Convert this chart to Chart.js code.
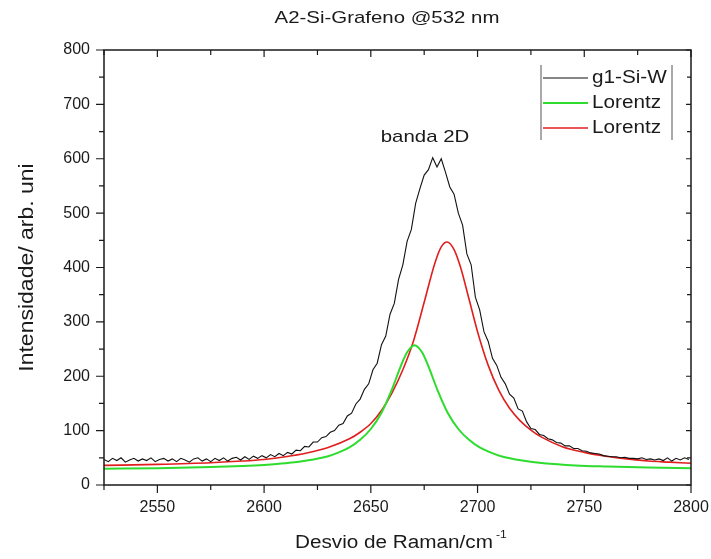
<!DOCTYPE html>
<html>
<head>
<meta charset="utf-8">
<script src="https://cdn.jsdelivr.net/npm/chart.js@4.4.1/dist/chart.umd.min.js"></script>
<style>
  html, body { margin: 0; padding: 0; background: #fff; }
  #wrap { width: 711px; height: 559px; }
</style>
</head>
<body>
<div id="wrap"><canvas id="c" width="711" height="559"></canvas></div>
<script>
const ramanShift = [
  2525,2527,2529,2531,2533,2535,2537,2539,2541,2543,
  2545,2547,2549,2551,2553,2555,2557,2559,2561,2563,
  2565,2567,2569,2571,2573,2575,2577,2579,2581,2583,
  2585,2587,2589,2591,2593,2595,2597,2599,2601,2603,
  2605,2607,2609,2611,2613,2615,2617,2619,2621,2623,
  2625,2627,2629,2631,2633,2635,2637,2639,2641,2643,
  2645,2647,2649,2651,2653,2655,2657,2659,2661,2663,
  2665,2667,2669,2671,2673,2675,2677,2679,2681,2683,
  2685,2687,2689,2691,2693,2695,2697,2699,2701,2703,
  2705,2707,2709,2711,2713,2715,2717,2719,2721,2723,
  2725,2727,2729,2731,2733,2735,2737,2739,2741,2743,
  2745,2747,2749,2751,2753,2755,2757,2759,2761,2763,
  2765,2767,2769,2771,2773,2775,2777,2779,2781,2783,
  2785,2787,2789,2791,2793,2795,2797,2799
];
const intensity = [
  47,43,49,45,50,42,46,49,44,48,
  45,50,43,47,49,44,48,43,49,46,
  42,48,50,44,48,43,49,45,50,44,
  49,51,46,52,47,53,49,54,50,56,
  52,58,54,60,57,64,63,71,70,79,
  79,87,89,97,100,110,113,127,132,149,
  158,176,186,212,224,258,274,314,334,378,
  405,448,470,518,545,570,580,602,585,600,
  575,548,535,500,478,425,405,345,322,282,
  264,233,220,198,186,167,160,140,136,116,
  104,102,93,91,85,83,78,77,72,72,
  67,67,63,62,59,58,57,54,53,52,
  52,50,51,49,49,48,50,47,48,46,
  48,45,50,44,49,46,50,47
];

const greenX = [2525,2550,2575,2590,2600,2610,2620,2630,2635,2640,2645,2650,2655,2660,2664,2667,2670.5,
  2674,2677,2681,2686,2691,2696,2701,2706,2711,2721,2731,2746,2761,2780,2800];
const greenY = [30,31,33,35,37,40,45,53,60,69,83,103,133,177,218,244,257,
  244,218,177,133,103,83,69,60,53,45,40,36,34,32,31];

const redX = [2525,2550,2575,2590,2600,2610,2620,2630,2640,2645,2650,2655,2660,2665,2670,2675,2680,2683,2685.7,
  2689,2692,2696,2700,2705,2710,2715,2720,2725,2730,2740,2750,2760,2770,2780,2790,2800];
const redY = [36,38,41,44,47,52,59,69,85,97,113,137,170,212,265,336,408,438,447,
  433,401,342,282,220,174,141,118,101,88,70,60,53,48,44,42,40];

const xTickLabels = [2550, 2600, 2650, 2700, 2750, 2800];
const yTickLabels = [0, 100, 200, 300, 400, 500, 600, 700, 800];

const toPoints = (xs, ys) => xs.map((x, i) => ({ x, y: ys[i] }));

const FONT = '"Liberation Sans", Arial, sans-serif';
const INK = '#1a1a1a';

// stretched text, the source image is a bit wider than plain Arial
function stretchText(ctx, text, x, y, size, align, sx, rot) {
  ctx.save();
  ctx.translate(x, y);
  if (rot) ctx.rotate(rot);
  ctx.scale(sx, 1);
  ctx.font = size + 'px ' + FONT;
  ctx.fillStyle = INK;
  ctx.textAlign = align;
  ctx.textBaseline = 'middle';
  ctx.fillText(text, 0, 0);
  ctx.restore();
}

const frame = {
  id: 'frame',
  afterDraw(chart) {
    const { ctx, chartArea: a, scales: { x, y } } = chart;
    ctx.save();
    ctx.strokeStyle = INK;
    ctx.lineWidth = 1.5;
    ctx.strokeRect(a.left, a.top, a.right - a.left, a.bottom - a.top);

    ctx.lineWidth = 1.2;
    ctx.beginPath();
    x.ticks.forEach(t => {
      const px = x.getPixelForValue(t.value);
      const major = xTickLabels.includes(t.value);
      ctx.moveTo(px, a.bottom); ctx.lineTo(px, a.bottom + (major ? 8 : 5));
      ctx.moveTo(px, a.top); ctx.lineTo(px, a.top + (major ? 7 : 5));
    });
    y.ticks.forEach(t => {
      const py = y.getPixelForValue(t.value);
      const major = yTickLabels.includes(t.value);
      ctx.moveTo(a.left, py); ctx.lineTo(a.left - (major ? 8 : 5), py);
      ctx.moveTo(a.right, py); ctx.lineTo(a.right - (major ? 5 : 4), py);
    });
    ctx.stroke();

    // texts
    stretchText(ctx, 'A2-Si-Grafeno @532 nm', 387, 18, 17, 'center', 1.2);
    stretchText(ctx, 'banda 2D', 425, 137, 17, 'center', 1.2);
    stretchText(ctx, 'Intensidade/ arb. uni', 27, (a.top + a.bottom) / 2, 20, 'center', 1.15, -Math.PI / 2);
    stretchText(ctx, 'Desvio de Raman/cm', 394, 543, 18, 'center', 1.15);
    stretchText(ctx, '-1', 496, 535, 11, 'left', 1.1);

    // legend
    const lx = 541, rows = [78, 103, 128];
    ctx.strokeStyle = '#555';
    ctx.lineWidth = 1;
    ctx.beginPath();
    ctx.moveTo(lx, 65); ctx.lineTo(lx, 140);
    ctx.moveTo(672, 65); ctx.lineTo(672, 140);
    ctx.stroke();
    chart.data.datasets.forEach((ds, i) => {
      ctx.strokeStyle = ds.borderColor;
      ctx.lineWidth = ds.borderWidth;
      ctx.beginPath();
      ctx.moveTo(lx + 2, rows[i]); ctx.lineTo(588, rows[i]);
      ctx.stroke();
      stretchText(ctx, ds.label, 592, rows[i], 18, 'left', 1.15);
    });
    ctx.restore();
  }
};

new Chart(document.getElementById('c'), {
  type: 'line',
  data: {
    datasets: [
      { label: 'g1-Si-W', data: toPoints(ramanShift, intensity), borderColor: '#111111', borderWidth: 1.1 },
      { label: 'Lorentz', data: toPoints(greenX, greenY), borderColor: '#2edc2e', borderWidth: 2, cubicInterpolationMode: 'monotone' },
      { label: 'Lorentz', data: toPoints(redX, redY), borderColor: '#e01e1e', borderWidth: 1.6, cubicInterpolationMode: 'monotone' },
    ]
  },
  options: {
    responsive: false,
    animation: false,
    elements: { point: { radius: 0 } },
    layout: { padding: { top: 50, right: 20, left: 0, bottom: 0 } },
    plugins: { legend: { display: false }, tooltip: { enabled: false }, title: { display: false } },
    scales: {
      x: {
        type: 'linear', min: 2525, max: 2800,
        afterFit: s => { s.height = 74; s.paddingLeft = 0; s.paddingRight = 0; },
        grid: { display: false, drawTicks: false },
        border: { display: false },
        ticks: {
          stepSize: 25, autoSkip: false, maxRotation: 0, padding: 13,
          color: INK, font: { family: FONT, size: 16 },
          callback: v => xTickLabels.includes(v) ? String(v) : ''
        }
      },
      y: {
        min: 0, max: 800,
        afterFit: s => { s.width = 104; s.paddingTop = 0; s.paddingBottom = 0; },
        grid: { display: false, drawTicks: false },
        border: { display: false },
        ticks: {
          stepSize: 50, autoSkip: false, padding: 14,
          color: INK, font: { family: FONT, size: 16 },
          callback: v => yTickLabels.includes(v) ? String(v) : ''
        }
      }
    }
  },
  plugins: [frame]
});
</script>
</body>
</html>
